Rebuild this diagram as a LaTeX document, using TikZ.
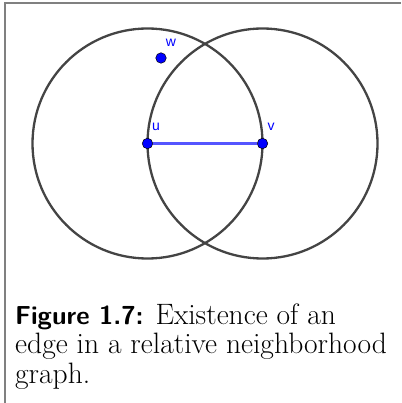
\documentclass[tikz,border=0pt]{standalone}
\usepackage{fontspec}
\newfontfamily\lblfont{Liberation Sans}
\definecolor{edgeblue}{RGB}{85,85,255}
\definecolor{ringgray}{RGB}{68,68,68}
\definecolor{framegray}{RGB}{128,128,128}
\begin{document}
\begin{tikzpicture}[x=1pt,y=-1pt,
  ring/.style={draw=ringgray,line width=2.3pt},
  uvline/.style={color=edgeblue,line width=2.4pt},
  dotnode/.style={circle,fill=blue,draw=black,line width=0.5pt,inner sep=0pt,minimum size=10.5pt},
  lbl/.style={text=blue,font=\lblfont\fontsize{14}{14}\selectfont,inner sep=0pt},
  frame/.style={draw=framegray,line width=1.5pt}]
\useasboundingbox (0,0) rectangle (401,403);
\draw[frame] (5,403) -- (5,3) -- (401,3);
\coordinate (cu) at (147.5,143.5);
\coordinate (cv) at (262.5,143.5);
\draw[ring] (cu) circle[radius=115];
\draw[ring] (cv) circle[radius=115];
\node[dotnode] (u) at (cu) {};
\node[dotnode] (v) at (cv) {};
\node[dotnode] (w) at (161,58) {};
\path[draw,uvline] (u) -- (v);
\node[lbl] (lu) at (156,127) {u};
\node[lbl] (lv) at (271,127) {v};
\node[lbl] (lw) at (171,43) {w};
\node[anchor=base west,align=left,inner sep=0pt,font=\fontsize{29.5}{29.5}\selectfont] (cap) at (15,383)
  {{\sffamily\bfseries\fontsize{26}{29.5}\selectfont Figure 1.7:} Existence of an\\edge in a relative neighborhood\\graph.};
\end{tikzpicture}
\end{document}
